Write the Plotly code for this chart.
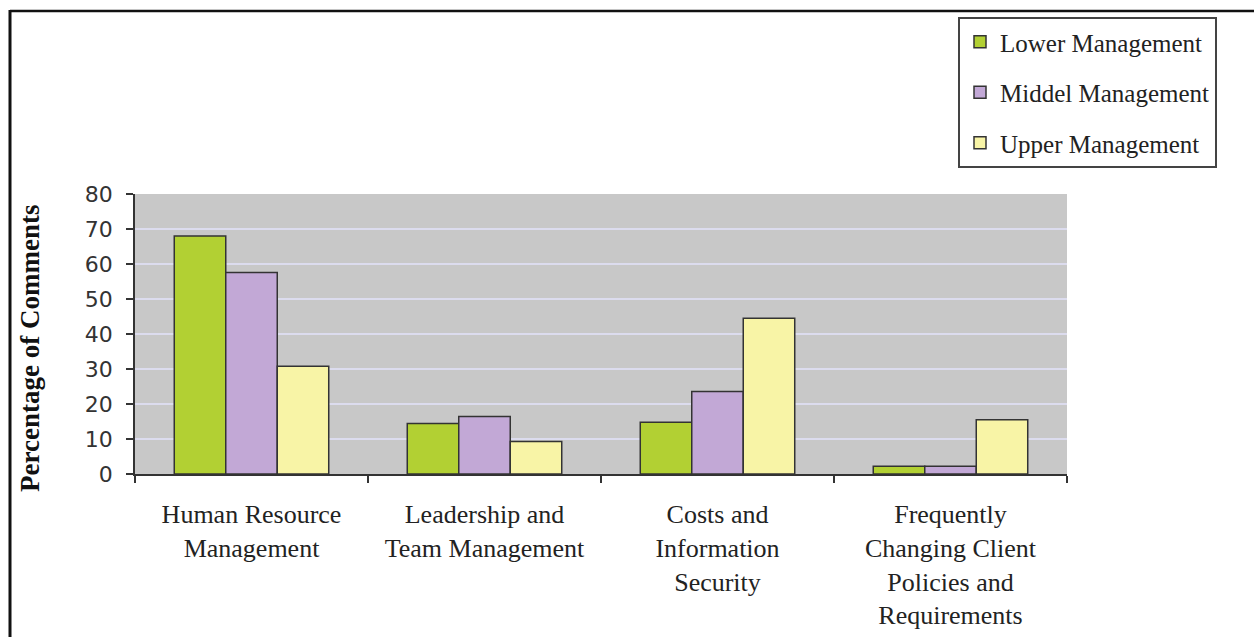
import plotly.graph_objects as go

categories = [
    "Human Resource<br>Management",
    "Leadership and<br>Team Management",
    "Costs and<br>Information<br>Security",
    "Frequently<br>Changing Client<br>Policies and<br>Requirements",
]
series_names = ["Lower Management", "Middel Management", "Upper Management"]
lower_mgmt = [68, 14.4, 14.8, 2.2]
middle_mgmt = [57.6, 16.4, 23.6, 2.2]
upper_mgmt = [30.8, 9.3, 44.5, 15.5]
y_ticks = [0, 10, 20, 30, 40, 50, 60, 70, 80]
y_title = "Percentage of Comments"

colors = ["#b2d033", "#c2a8d6", "#f8f4a6"]
values = [lower_mgmt, middle_mgmt, upper_mgmt]

W, H = 1254, 637
L, R, T, B = 135, 1067, 194, 474


def px(x):
    return (x - L) / (R - L)


def py(y):
    return (B - y) / (B - T)


fig = go.Figure()
for i, (name, vals) in enumerate(zip(series_names, values)):
    fig.add_trace(go.Bar(
        x=categories, y=vals, name=name,
        legendgroup=name,
        marker=dict(color=colors[i], line=dict(color="#333333", width=1.5)),
    ))

serif = "Liberation Serif, Times New Roman, serif"

fig.update_layout(
    width=W, height=H,
    margin=dict(l=L, r=W - R, t=T, b=H - B, pad=0, autoexpand=False),
    paper_bgcolor="white",
    plot_bgcolor="#c8c8c8",
    barmode="group",
    bargap=0.337,
    bargroupgap=0,
    legend=dict(
        x=px(958), y=py(17), xanchor="left", yanchor="top",
        bgcolor="white", bordercolor="#444444", borderwidth=2,
        font=dict(family=serif, size=25, color="#222222"),
        tracegroupgap=15,
        traceorder="grouped",
    ),
    xaxis=dict(
        type="category", automargin=False,
        showline=True, linecolor="#333333", linewidth=1.5,
        ticks="outside", tickson="boundaries", ticklen=7,
        tickcolor="#333333", tickwidth=1.5,
        tickfont=dict(family=serif, size=26, color="#222222"),
        ticklabelstandoff=16,
        showgrid=False,
    ),
    yaxis=dict(
        range=[0, 80], tickvals=y_ticks, automargin=False,
        showline=True, linecolor="#333333", linewidth=1.5,
        ticks="outside", ticklen=7, tickcolor="#333333", tickwidth=1.5,
        tickfont=dict(family="DejaVu Sans, sans-serif", size=22, color="#333333"),
        ticklabelstandoff=9,
        showgrid=True, gridcolor="#dcdcee", gridwidth=2,
        zeroline=False,
    ),
    annotations=[
        dict(text="<b>" + y_title + "</b>", xref="paper", yref="paper",
             x=px(30), y=py(349), xanchor="center", yanchor="middle",
             textangle=-90, showarrow=False,
             font=dict(family=serif, size=27, color="#111111")),
    ],
    shapes=[
        dict(type="line", xref="paper", yref="paper",
             x0=px(10), x1=px(1260), y0=py(11), y1=py(11),
             line=dict(color="#111111", width=2.5)),
        dict(type="line", xref="paper", yref="paper",
             x0=px(10), x1=px(10), y0=py(10), y1=py(645),
             line=dict(color="#111111", width=3)),
    ],
    showlegend=True,
)

fig.write_html("out.html")
